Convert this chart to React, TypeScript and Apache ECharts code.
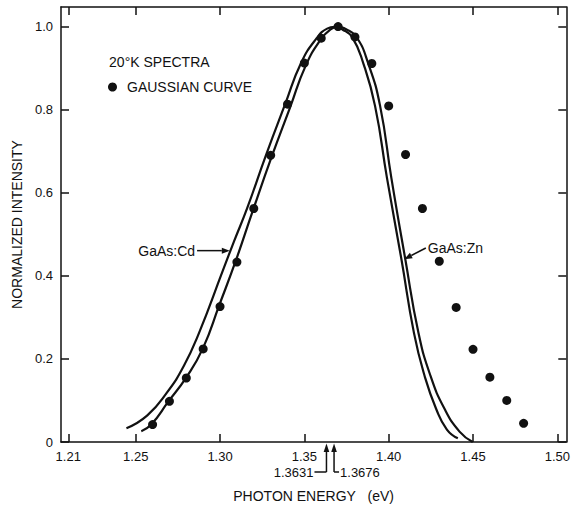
import React, { useEffect, useRef } from "react";
import * as echarts from "echarts";

const FONT = '"Liberation Sans", Arial, sans-serif';
const INK = "#111111";

// Axis ticks
const xTicks = [1.21, 1.25, 1.3, 1.35, 1.4, 1.45, 1.5];
const yTicks = [0, 0.2, 0.4, 0.6, 0.8, 1.0];

// Gaussian curve points (dots)
const gaussEnergy = [1.26, 1.27, 1.28, 1.29, 1.3, 1.31, 1.32, 1.33, 1.34, 1.35, 1.36, 1.37, 1.38, 1.39, 1.4, 1.41, 1.42, 1.43, 1.44, 1.45, 1.46, 1.47, 1.48];
const gaussIntensity = [0.042, 0.098, 0.154, 0.224, 0.326, 0.433, 0.562, 0.69, 0.813, 0.912, 0.972, 1.0, 0.975, 0.911, 0.809, 0.692, 0.562, 0.435, 0.324, 0.223, 0.156, 0.1, 0.045];

// GaAs:Cd spectrum
const cdEnergy = [1.2445, 1.2569, 1.2687, 1.2785, 1.2875, 1.3017, 1.3084, 1.3162, 1.3272, 1.3386, 1.3481, 1.3573, 1.3635, 1.368, 1.3725, 1.3784, 1.3849, 1.3919, 1.399, 1.4075, 1.415, 1.4213, 1.4281, 1.4345, 1.441];
const cdIntensity = [0.033, 0.064, 0.12, 0.183, 0.262, 0.413, 0.484, 0.564, 0.69, 0.813, 0.913, 0.972, 0.995, 0.999, 0.993, 0.974, 0.912, 0.809, 0.635, 0.441, 0.262, 0.159, 0.08, 0.03, 0.009];

// GaAs:Zn spectrum
const znEnergy = [1.2533, 1.2592, 1.2693, 1.2799, 1.2899, 1.2996, 1.3094, 1.3193, 1.3303, 1.3416, 1.3508, 1.3599, 1.3655, 1.37, 1.3745, 1.3807, 1.3878, 1.3949, 1.4016, 1.4098, 1.4177, 1.4248, 1.4331, 1.442, 1.4498];
const znIntensity = [0.026, 0.042, 0.097, 0.155, 0.226, 0.33, 0.437, 0.555, 0.683, 0.806, 0.906, 0.97, 0.993, 1.0, 0.994, 0.976, 0.912, 0.809, 0.635, 0.441, 0.262, 0.159, 0.08, 0.025, 0.0];

// Peak energies marked under the axis
const peakEnergies = [1.3631, 1.3676];
const peakLabels = ["1.3631", "1.3676"];

const X_MIN = 1.2057;
const X_MAX = 1.5053;
const Y_MIN = 0;
const Y_MAX = 1.047;

// Annotation anchors (data coordinates)
const spectraAnchor = [1.2342, 0.9156];
const cdTextEnd = [1.2852, 0.4606];
const cdTip = [1.3058, 0.4606];
const znTextStart = [1.4232, 0.467];
const znTip = [1.4092, 0.44];

const zip = (xs: number[], ys: number[]) => xs.map((x, i) => [x, ys[i]]);

export default function App() {
  const ref = useRef<HTMLDivElement>(null);

  useEffect(() => {
    if (!ref.current) return;
    const chart = echarts.init(ref.current, null, { renderer: "svg" });

    const axisLineStyle = { color: INK, width: 1.5 };
    const tickStyle = { color: INK, width: 1.5 };
    const option: any = {
      animation: false,
      backgroundColor: "#ffffff",
      textStyle: { fontFamily: FONT, color: INK },
      grid: { left: 61, right: 4, top: 7, bottom: 61, containLabel: false },
      legend: {
        data: ["GAUSSIAN CURVE"],
        left: 103,
        top: 75,
        icon: "circle",
        itemWidth: 19,
        itemHeight: 9,
        textStyle: { fontSize: 14, color: INK, fontFamily: FONT },
        selectedMode: false,
      },
      xAxis: [
        {
          type: "value",
          min: X_MIN,
          max: X_MAX,
          position: "bottom",
          name: "PHOTON ENERGY\u00a0\u00a0\u00a0(eV)",
          nameLocation: "middle",
          nameGap: 47,
          nameTextStyle: { fontSize: 14, color: INK, fontFamily: FONT },
          axisLine: { show: true, onZero: false, lineStyle: axisLineStyle },
          axisTick: { show: true, inside: true, length: 8, customValues: xTicks, lineStyle: tickStyle },
          axisLabel: { show: true, customValues: xTicks, margin: 8, fontSize: 13, color: INK, fontFamily: FONT, formatter: (v: number) => v.toFixed(2) },
          splitLine: { show: false },
        },
        {
          type: "value",
          min: X_MIN,
          max: X_MAX,
          position: "top",
          axisLine: { show: true, onZero: false, lineStyle: axisLineStyle },
          axisTick: { show: true, inside: true, length: 8, customValues: xTicks, lineStyle: tickStyle },
          axisLabel: { show: false },
          splitLine: { show: false },
        },
      ],
      yAxis: [
        {
          type: "value",
          min: Y_MIN,
          max: Y_MAX,
          position: "left",
          name: "NORMALIZED INTENSITY",
          nameLocation: "middle",
          nameGap: 30,
          nameRotate: 90,
          nameTextStyle: { fontSize: 14, color: INK, fontFamily: FONT },
          axisLine: { show: true, onZero: false, lineStyle: axisLineStyle },
          axisTick: { show: true, inside: true, length: 8, customValues: yTicks, lineStyle: tickStyle },
          axisLabel: { show: true, customValues: yTicks, margin: 8, fontSize: 13, color: INK, fontFamily: FONT, formatter: (v: number) => (v === 0 ? "0" : v.toFixed(1)) },
          splitLine: { show: false },
        },
        {
          type: "value",
          min: Y_MIN,
          max: Y_MAX,
          position: "right",
          axisLine: { show: true, onZero: false, lineStyle: axisLineStyle },
          axisTick: { show: true, inside: true, length: 8, customValues: yTicks, lineStyle: tickStyle },
          axisLabel: { show: false },
          splitLine: { show: false },
        },
      ],
      series: [
        {
          name: "GaAs:Cd",
          type: "line",
          data: zip(cdEnergy, cdIntensity),
          smooth: 0.5,
          showSymbol: false,
          symbol: "none",
          lineStyle: { color: INK, width: 2.2 },
          itemStyle: { color: INK },
          z: 3,
        },
        {
          name: "GaAs:Zn",
          type: "line",
          data: zip(znEnergy, znIntensity),
          smooth: 0.5,
          showSymbol: false,
          symbol: "none",
          lineStyle: { color: INK, width: 2.2 },
          itemStyle: { color: INK },
          z: 3,
        },
        {
          name: "GAUSSIAN CURVE",
          type: "scatter",
          data: zip(gaussEnergy, gaussIntensity),
          symbol: "circle",
          symbolSize: 9,
          itemStyle: { color: INK, opacity: 1 },
          z: 4,
        },
      ],
    };

    chart.setOption(option);

    const px = (p: number[]) => chart.convertToPixel({ xAxisIndex: 0, yAxisIndex: 0 }, p) as number[];

    const arrow = (p0: number[], p1: number[], len: number, half: number) => {
      const dx = p1[0] - p0[0];
      const dy = p1[1] - p0[1];
      const d = Math.sqrt(dx * dx + dy * dy) || 1;
      const ux = dx / d;
      const uy = dy / d;
      const bx = p1[0] - ux * len;
      const by = p1[1] - uy * len;
      const nx = -uy;
      const ny = ux;
      return [
        { type: "line", shape: { x1: p0[0], y1: p0[1], x2: bx, y2: by }, style: { stroke: INK, lineWidth: 1.5 } },
        {
          type: "polygon",
          shape: { points: [[p1[0], p1[1]], [bx + nx * half, by + ny * half], [bx - nx * half, by - ny * half]] },
          style: { fill: INK },
        },
      ];
    };

    const text = (p: number[], t: string, align: string, size: number) => ({
      type: "text",
      x: p[0],
      y: p[1],
      style: { text: t, fill: INK, font: `${size}px ${FONT}`, textAlign: align, textVerticalAlign: "middle" },
    });

    const graphics: any[] = [];
    graphics.push(text(px(spectraAnchor), "20°K SPECTRA", "left", 14));

    const cdEnd = px(cdTextEnd);
    graphics.push(text(cdEnd, "GaAs:Cd", "right", 14));
    graphics.push(...arrow([cdEnd[0] + 2, cdEnd[1]], px(cdTip), 8, 3));

    const znStart = px(znTextStart);
    graphics.push(text(znStart, "GaAs:Zn", "left", 14));
    graphics.push(...arrow([znStart[0] - 2, znStart[1]], px(znTip), 8, 3));

    peakEnergies.forEach((e, i) => {
      const [ax, ay] = px([e, 0]);
      const tipY = ay + 1.5;
      const baseY = ay + 10;
      const lowY = ay + 30;
      graphics.push({ type: "polygon", shape: { points: [[ax, tipY], [ax - 2.8, baseY], [ax + 2.8, baseY]] }, style: { fill: INK } });
      graphics.push({ type: "line", shape: { x1: ax, y1: baseY, x2: ax, y2: lowY }, style: { stroke: INK, lineWidth: 1.5 } });
      if (i === 0) {
        graphics.push({ type: "line", shape: { x1: ax - 12, y1: lowY, x2: ax, y2: lowY }, style: { stroke: INK, lineWidth: 1.5 } });
        graphics.push(text([ax - 13, lowY], peakLabels[i], "right", 13));
      } else {
        graphics.push({ type: "line", shape: { x1: ax, y1: lowY, x2: ax + 5, y2: lowY }, style: { stroke: INK, lineWidth: 1.5 } });
        graphics.push(text([ax + 6, lowY], peakLabels[i], "left", 13));
      }
    });

    chart.setOption({ graphic: graphics });

    return () => {
      chart.dispose();
    };
  }, []);

  return (
    <div
      ref={ref}
      style={{ position: "absolute", left: 0, top: 0, width: 573, height: 508, background: "#ffffff" }}
    />
  );
}
